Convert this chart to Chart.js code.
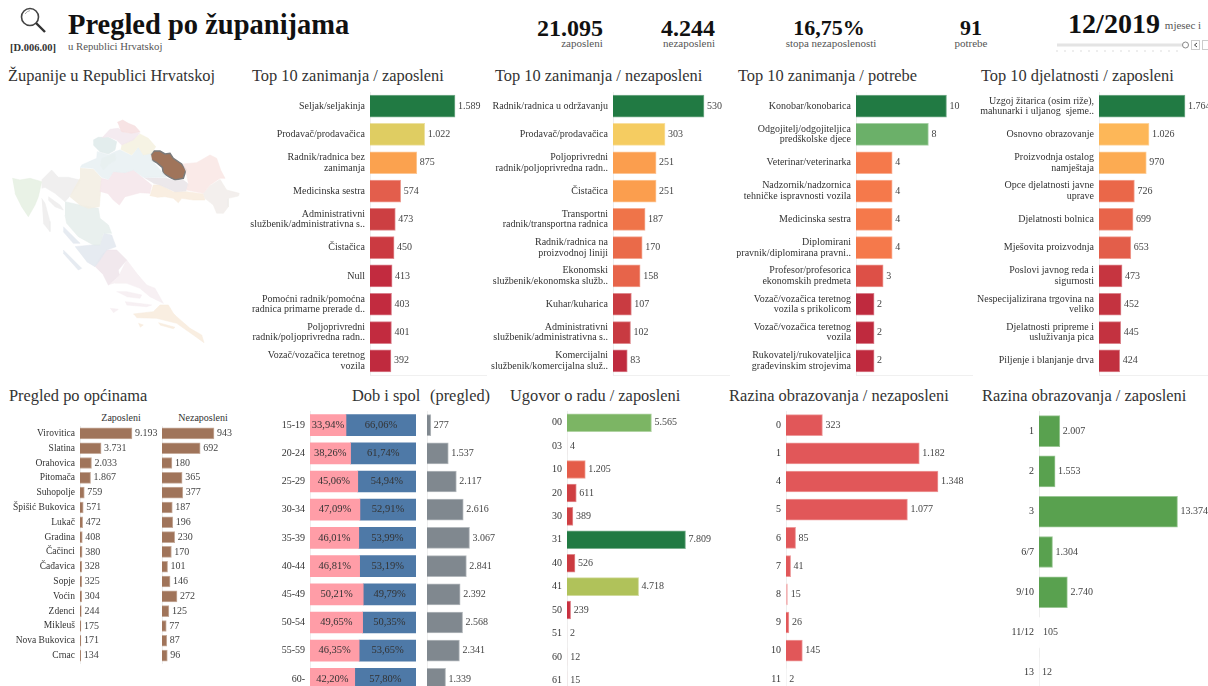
<!DOCTYPE html>
<html lang="hr"><head><meta charset="utf-8"><title>Pregled po županijama</title>
<script src="https://cdn.jsdelivr.net/npm/chart.js@4"></script>
<style>
html,body{margin:0;padding:0;width:1208px;height:686px;overflow:hidden;background:#fff}
body{position:relative;font-family:"Liberation Serif",serif;color:#333}
canvas{position:absolute}
.t{position:absolute;white-space:nowrap;line-height:1}
.title{font-size:16.4px;color:#333}
.kpi{font-weight:bold;font-size:24px;color:#111;transform:translateX(-50%)}
.sub{font-size:11px;color:#555;transform:translateX(-50%)}
</style></head><body>
<svg style="position:absolute;left:19px;top:6px" width="30" height="28" viewBox="0 0 30 28"><circle cx="11" cy="11" r="8.5" fill="none" stroke="#444" stroke-width="1.6"/><path d="M6 8q2-3 5-3.4" stroke="#aaa" fill="none"/><path d="M17 17l9 9" stroke="#333" stroke-width="2.4"/></svg>
<div class="t" style="left:10px;top:43px;font-size:10.5px;font-weight:bold">[D.006.00]</div>
<div class="t" style="left:68px;top:11px;font-size:28.5px;font-weight:bold;color:#111">Pregled po županijama</div>
<div class="t" style="left:68px;top:41px;font-size:10.7px;color:#555">u Republici Hrvatskoj</div>
<div class="t kpi" style="left:570px;top:16px">21.095</div><div class="t sub" style="left:582px;top:38px">zaposleni</div>
<div class="t kpi" style="left:688px;top:16px">4.244</div><div class="t sub" style="left:689px;top:38px">nezaposleni</div>
<div class="t kpi" style="left:829px;top:17px;font-size:22px">16,75%</div><div class="t sub" style="left:831px;top:38px">stopa nezaposlenosti</div>
<div class="t kpi" style="left:971px;top:17px;font-size:22px">91</div><div class="t sub" style="left:971px;top:38px">potrebe</div>
<div class="t kpi" style="left:1114px;top:10px;font-size:28px">12/2019</div><div class="t sub" style="left:1183px;top:20px">mjesec i</div>
<svg style="position:absolute;left:1055px;top:38px" width="153" height="16"><rect x="2" y="5.5" width="126" height="3" fill="#e4e4e4"/><circle cx="130.500" cy="7" r="3" fill="#fff" stroke="#888"/><rect x="136.500" y="2.500" width="8" height="9" fill="#fff" stroke="#ccc"/><path d="M142 5l-2.500 2 2.500 2" fill="none" stroke="#444"/><rect x="147.500" y="2.500" width="8" height="9" fill="#fff" stroke="#ccc"/><path d="M2 12v2M10 12v2M18 12v2M26 12v2M34 12v2M42 12v2M50 12v2M58 12v2M66 12v2M74 12v2M82 12v2M90 12v2M98 12v2M106 12v2M114 12v2M122 12v2" stroke="#ddd"/></svg>

<div class="t title" style="left:8px;top:68px">Županije u Republici Hrvatskoj</div>
<div class="t title" style="left:252px;top:68px">Top 10 zanimanja / zaposleni</div>
<div class="t title" style="left:495px;top:68px">Top 10 zanimanja / nezaposleni</div>
<div class="t title" style="left:738px;top:68px">Top 10 zanimanja / potrebe</div>
<div class="t title" style="left:981px;top:68px">Top 10 djelatnosti / zaposleni</div>
<div class="t title" style="left:9px;top:388px">Pregled po općinama</div>
<div class="t title" style="left:352px;top:388px">Dob i spol</div>
<div class="t title" style="left:430px;top:388px">(pregled)</div>
<div class="t title" style="left:510px;top:388px">Ugovor o radu / zaposleni</div>
<div class="t title" style="left:729px;top:388px">Razina obrazovanja / nezaposleni</div>
<div class="t title" style="left:982px;top:388px">Razina obrazovanja / zaposleni</div>
<div class="t" style="left:121px;top:413px;font-size:10px;transform:translateX(-50%)">Zaposleni</div>
<div class="t" style="left:203px;top:413px;font-size:10px;transform:translateX(-50%)">Nezaposleni</div>

<script>
// ---------- categories and values ----------
const occEmpLabels=["Seljak/seljakinja","Prodavač/prodavačica",["Radnik/radnica bez","zanimanja"],"Medicinska sestra",["Administrativni","službenik/administrativna s.."],"Čistačica","Null",["Pomoćni radnik/pomoćna","radnica primarne prerade d.."],["Poljoprivredni","radnik/poljoprivredna radn.."],["Vozač/vozačica teretnog","vozila"]];
const occEmpValues=[1589,1022,875,574,473,450,413,403,401,392];
const occUnempLabels=["Radnik/radnica u održavanju","Prodavač/prodavačica",["Poljoprivredni","radnik/poljoprivredna radn.."],"Čistačica",["Transportni","radnik/transportna radnica"],["Radnik/radnica na","proizvodnoj liniji"],["Ekonomski","službenik/ekonomska služb.."],"Kuhar/kuharica",["Administrativni","službenik/administrativna s.."],["Komercijalni","službenik/komercijalna služ.."]];
const occUnempValues=[530,303,251,251,187,170,158,107,102,83];
const occNeedLabels=["Konobar/konobarica",["Odgojitelj/odgojiteljica","predškolske djece"],"Veterinar/veterinarka",["Nadzornik/nadzornica","tehničke ispravnosti vozila"],"Medicinska sestra",["Diplomirani","pravnik/diplomirana pravni.."],["Profesor/profesorica","ekonomskih predmeta"],["Vozač/vozačica teretnog","vozila s prikolicom"],["Vozač/vozačica teretnog","vozila"],["Rukovatelj/rukovateljica","građevinskim strojevima"]];
const occNeedValues=[10,8,4,4,4,4,3,2,2,2];
const actLabels=[["Uzgoj žitarica (osim riže),","mahunarki i uljanog  sjeme.."],"Osnovno obrazovanje",["Proizvodnja ostalog","namještaja"],["Opce djelatnosti javne","uprave"],"Djelatnosti bolnica","Mješovita proizvodnja",["Poslovi javnog reda i","sigurnosti"],["Nespecijalizirana trgovina na","veliko"],["Djelatnosti pripreme i","usluživanja pica"],"Piljenje i blanjanje drva"];
const actValues=[1764,1026,970,726,699,653,473,452,445,424];
const townLabels=["Virovitica","Slatina","Orahovica","Pitomača","Suhopolje","Špišić Bukovica","Lukač","Gradina","Čačinci","Čađavica","Sopje","Voćin","Zdenci","Mikleuš","Nova Bukovica","Crnac"];
const townEmp=[9193,3731,2033,1867,759,571,472,408,380,328,325,304,244,175,171,134];
const townUnemp=[943,692,180,365,377,187,196,230,170,101,146,272,125,77,87,96];
const ageLabels=["15-19","20-24","25-29","30-34","35-39","40-44","45-49","50-54","55-59","60-"];
const agePctF=[33.94,38.26,45.06,47.09,46.01,46.81,50.21,49.65,46.35,42.20];
const agePctM=[66.06,61.74,54.94,52.91,53.99,53.19,49.79,50.35,53.65,57.80];
const ageTotal=[277,1537,2117,2616,3067,2841,2392,2568,2341,1339];
const contractLabels=["00","03","10","20","30","31","40","41","50","51","60","61"];
const contractValues=[5565,4,1205,611,389,7809,526,4718,239,2,12,15];
const eduUnempLabels=["0","1","4","5","6","7","8","9","10","11"];
const eduUnempValues=[323,1182,1348,1077,85,41,15,26,145,2];
const eduEmpLabels=["1","2","3","6/7","9/10","11/12","13"];
const eduEmpValues=[2007,1553,13374,1304,2740,105,12];

// ---------- map outlines (map units) ----------
const medimurje=[[352,97],[368,90],[385,100],[405,108],[420,125],[395,130],[365,125],[358,110]];
const varazdin=[[305,145],[330,118],[355,115],[375,128],[420,128],[400,150],[365,165],[350,150],[325,140]];
const krapina=[[280,150],[295,142],[325,142],[350,155],[345,180],[325,192],[300,185],[280,165]];
const koprivnica=[[365,165],[395,150],[420,132],[445,145],[467,170],[455,190],[430,195],[415,170],[395,195],[362,178]];
const zagrebZupBj=[[245,225],[290,205],[292,185],[325,195],[345,185],[360,180],[395,197],[415,172],[430,195],[452,190],[455,210],[490,250],[500,262],[430,262],[400,240],[375,248],[340,245],[325,268],[305,262],[280,235],[240,232]];
const zagrebGrad=[[305,205],[345,190],[348,210],[325,225],[310,240],[300,225]];
const osijek=[[548,222],[590,218],[630,195],[650,205],[662,240],[675,265],[660,265],[630,285],[610,310],[560,300],[565,280],[558,245]];
const vukovar=[[660,268],[680,300],[718,310],[715,318],[685,325],[685,350],[670,370],[650,370],[640,345],[615,325],[610,310],[632,285]];
const pozega=[[432,263],[500,265],[525,272],[550,270],[565,282],[558,303],[525,305],[480,285],[460,280]];
const brod=[[450,318],[460,285],[480,285],[520,305],[560,305],[610,312],[615,330],[580,330],[545,325],[535,338],[520,325],[495,320],[470,322]];
const sisak=[[300,305],[305,265],[325,270],[340,245],[375,248],[400,240],[430,265],[455,285],[450,310],[420,308],[395,315],[375,320],[358,345],[340,330],[325,312]];
const karlovac=[[240,235],[280,238],[305,265],[298,350],[265,355],[240,345],[210,320],[220,300],[240,265]];
const istra=[[37,265],[60,270],[90,265],[125,275],[115,320],[105,345],[85,380],[65,350],[45,310]];
const primorje=[[125,270],[155,240],[175,262],[205,262],[240,270],[235,285],[208,320],[195,335],[165,310],[135,292],[125,295]];
const krk=[[145,320],[180,345],[190,360],[165,350],[145,330]];
const cres=[[125,325],[135,340],[150,395],[150,425],[130,400]];
const lika=[[195,335],[240,345],[295,355],[300,385],[325,405],[335,430],[310,430],[300,465],[280,465],[235,440],[200,400],[195,375]];
const zadar=[[225,470],[275,465],[300,465],[312,430],[335,435],[348,470],[320,480],[300,510],[285,530],[260,515]];
const zadarOtok1=[[190,410],[240,460],[220,460],[190,425]];
const zadarOtok2=[[190,480],[245,535],[235,540],[190,490]];
const sibenik=[[285,530],[305,495],[320,480],[350,480],[380,510],[355,540],[358,555],[325,585],[310,555]];
const split=[[325,585],[358,555],[380,510],[410,550],[440,585],[465,595],[490,640],[450,620],[420,595],[380,580],[345,580]];
const brac=[[350,605],[380,605],[425,615],[420,625],[380,620]];
const hvar=[[375,635],[455,645],[440,650],[380,645]];
const vis=[[330,655],[355,658],[340,668]];
const dubrovnik=[[400,672],[460,665],[480,645],[505,645],[520,670],[530,680],[570,715],[605,735],[612,758],[580,735],[530,700],[470,685],[410,683]];
const lastovo=[[415,700],[430,705],[420,712]];
const mljet=[[475,698],[525,712],[520,716],[480,705]];
const virovitica=[[452,195],[462,183],[480,183],[495,192],[510,190],[520,205],[545,222],[558,240],[550,265],[525,270],[510,262],[490,250],[487,232],[470,218],[455,210]];

// ---------- styles ----------
const FONT="'Liberation Serif', serif";
const G="#217a43",BR="#a0745a",GR="#80888f",RD="#e15759",GN="#59a14f";
const occEmpColors=[G,'#dfcd62','#fba24f','#e35e4c','#cc3f42','#cb3a41','#c22b3f','#c22b3f','#c22b3f','#c02a3e'];
const occUnempColors=[G,'#f5cc61','#fb9e4e','#fb9e4e','#ef7449','#ea6a49','#e7644a','#c93b41','#c83a41','#bf2a3e'];
const occNeedColors=[G,'#6bb069','#f5794b','#f5794b','#f5794b','#f5794b','#dd5047','#bf2a3e','#bf2a3e','#bf2a3e'];
const actColors=[G,'#fdb758','#fcab52','#ea6749','#e8644a','#e35e4a','#c63540','#c43340','#c33240','#c1303f'];
const contractColors=['#7cb564','#f0e0e0','#e45c49','#cf3f42','#cf3f42',G,'#cb3a40','#b0c25a','#c8303f','#f5e5e5','#f0e0e0','#f0e0e0'];
const eduUnempColors=[RD,RD,RD,RD,RD,RD,'#f2b3b4',RD,RD,'#ffffff'];
const eduEmpColors=[GN,GN,GN,GN,GN,'#ffffff','#ffffff'];
const mapRegions=[[medimurje,'#f6dfe0'],[varazdin,'#f3e8ee'],[krapina,'#dfeaea'],[koprivnica,'#f5f1e0'],[zagrebZupBj,'#e8f0f3'],[zagrebGrad,'#e6eee3'],[osijek,'#f9e7e5'],[vukovar,'#f1edea'],[pozega,'#e9e5e8'],[brod,'#f8ecdd'],[sisak,'#f5e6ea'],[karlovac,'#f3eee2'],[istra,'#e6f0e2'],[primorje,'#eeeded'],[krk,'#eeeded'],[cres,'#eeeded'],[lika,'#e6eeec'],[zadar,'#e3e8ef'],[zadarOtok1,'#e3e8ef'],[zadarOtok2,'#e3e8ef'],[sibenik,'#efe5eb'],[split,'#f6eef1'],[brac,'#f6eef1'],[hvar,'#f6eef1'],[vis,'#f6eef1'],[dubrovnik,'#f8ecdd'],[lastovo,'#f8ecdd'],[mljet,'#f8ecdd']];

const thousands=v=>String(v).replace(/\B(?=(\d{3})+$)/g,'.');
const pct=v=>v.toFixed(2).replace('.',',')+'%';

const valueLabels={id:'valueLabels',afterDatasetsDraw(chart,args,opts){
  if(!opts.mode)return;
  const ctx=chart.ctx;ctx.save();ctx.font=opts.size+"px "+FONT;ctx.textBaseline='middle';
  chart.data.datasets.forEach((ds,i)=>{
    chart.getDatasetMeta(i).data.forEach((bar,j)=>{
      if(opts.mode==='center'){ctx.fillStyle='#333';ctx.textAlign='center';ctx.fillText(pct(ds.data[j]),(bar.base+bar.x)/2,bar.y);}
      else{ctx.fillStyle='#444';ctx.textAlign='left';ctx.fillText(thousands(ds.data[j]),bar.x+3,bar.y);}
    });
  });
  ctx.restore();
}};
Chart.register(valueLabels);

function mk(left,top,w,h){const c=document.createElement('canvas');c.width=w;c.height=h;c.style.left=left+'px';c.style.top=top+'px';document.body.appendChild(c);return c;}
const noPad=s=>{s.paddingTop=0;s.paddingBottom=0;s.paddingLeft=0;s.paddingRight=0;};

function barChart(p){
  const c=mk(p.left,p.top,p.right-p.left,p.bottom-p.top);
  const tint=a=>Array.isArray(a)?a.map(x=>x+'99'):a+'99';
  const xMax=p.stack?100:p.refValue*(p.right-p.axis)/p.refPx;
  const datasets=p.stack?p.stack.map(s=>({data:s.data,backgroundColor:s.color,borderWidth:0,barThickness:p.thick})):
    [{data:p.values,backgroundColor:p.colors,borderColor:tint(p.colors),borderWidth:1,barThickness:p.thick}];
  new Chart(c,{type:'bar',data:{labels:p.labels,datasets},options:{
    indexAxis:'y',responsive:false,animation:false,layout:{padding:0},
    plugins:{legend:{display:false},title:{display:false},tooltip:{enabled:false},
      valueLabels:{mode:p.stack?'center':'end',size:p.stack?10.5:10}},
    scales:{
      x:{min:0,max:xMax,stacked:!!p.stack,display:!!p.baseline,grid:{display:false,drawTicks:false},ticks:{display:false},border:{color:'#f0f0f0'},afterFit:s=>{s.height=1;noPad(s);}},
      y:{stacked:!!p.stack,grid:{display:false,drawTicks:false},border:{color:'#eeeeee'},
        ticks:{display:!p.noLabels,autoSkip:false,padding:5,color:'#333',font:{family:FONT,size:p.tickSize||10,lineHeight:1.05}},
        afterFit:s=>{s.width=p.axis-p.left;noPad(s);}}
    }}});
}

// top row
barChart({left:240,top:92,right:487,bottom:376,axis:370,refValue:1589,refPx:85,labels:occEmpLabels,values:occEmpValues,colors:occEmpColors,thick:22,baseline:true});
barChart({left:485,top:92,right:730,bottom:376,axis:613,refValue:530,refPx:91,labels:occUnempLabels,values:occUnempValues,colors:occUnempColors,thick:22,baseline:true});
barChart({left:725,top:92,right:973,bottom:376,axis:856,refValue:10,refPx:90.500,labels:occNeedLabels,values:occNeedValues,colors:occNeedColors,thick:22,baseline:true});
barChart({left:965,top:92,right:1208,bottom:376,axis:1099,refValue:1764,refPx:86,labels:actLabels,values:actValues,colors:actColors,thick:22,baseline:true});
// bottom row
barChart({left:0,top:426,right:161,bottom:664,axis:80,refValue:9193,refPx:52,labels:townLabels,values:townEmp,colors:BR,thick:11,tickSize:9.5});
barChart({left:162,top:426,right:246,bottom:664,axis:162,refValue:943,refPx:52,labels:townLabels,values:townUnemp,colors:BR,thick:11,noLabels:true});
barChart({left:270,top:411,right:416,bottom:694,axis:310,labels:ageLabels,thick:21,stack:[{data:agePctF,color:'#ff9da7'},{data:agePctM,color:'#4e79a7'}]});
barChart({left:427,top:411,right:505,bottom:694,axis:427,refValue:3067,refPx:42.500,labels:ageLabels,values:ageTotal,colors:GR,thick:21,noLabels:true});
barChart({left:510,top:411,right:725,bottom:693,axis:567,refValue:7809,refPx:118.500,labels:contractLabels,values:contractValues,colors:contractColors,thick:18});
barChart({left:730,top:411,right:975,bottom:694,axis:786,refValue:1348,refPx:152,labels:eduUnempLabels,values:eduUnempValues,colors:eduUnempColors,thick:21});
barChart({left:985,top:411,right:1208,bottom:694,axis:1039,refValue:13374,refPx:138.500,labels:eduEmpLabels,values:eduEmpValues,colors:eduEmpColors,thick:31});

// map
const mapData=mapRegions.map(([pts,col])=>({data:pts.map(([x,y])=>({x,y})),backgroundColor:col+'e0',borderColor:col+'80',borderWidth:1,showLine:true,fill:'shape',pointRadius:0,tension:0}));
mapData.push({data:virovitica.map(([x,y])=>({x,y})),backgroundColor:BR,borderColor:'#7b7b7b',borderWidth:1.5,showLine:true,fill:'shape',pointRadius:0,tension:0});
new Chart(mk(0,90,250,290),{type:'scatter',data:{datasets:mapData},options:{responsive:false,animation:false,layout:{padding:0},
  plugins:{legend:{display:false},tooltip:{enabled:false}},
  scales:{x:{type:'linear',display:false,min:0,max:750},y:{type:'linear',display:false,min:0,max:870,reverse:true}}}});
</script>
</body></html>
